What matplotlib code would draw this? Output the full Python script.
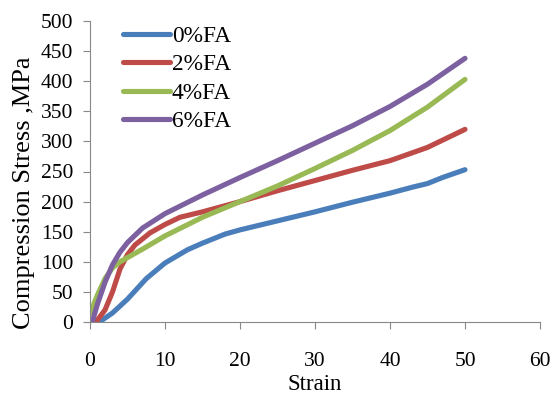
import numpy as np
import matplotlib
matplotlib.use("Agg")
import matplotlib.pyplot as plt

strain_0 = [1.25, 3, 5, 7.5, 10, 13, 15, 18, 20, 25, 30, 35, 40, 43, 45, 47, 50]
stress_0 = [0, 15, 38, 72, 98, 120, 131, 146, 153, 168, 183, 199, 214, 224, 230, 240, 253]

strain_2 = [0.8, 2, 3, 4, 5, 6, 8, 10, 12, 15, 20, 25, 30, 35, 40, 45, 50]
stress_2 = [0, 20, 50, 88, 112, 128, 148, 162, 174, 183, 200, 218, 235, 252, 268, 290, 320]

strain_4 = [0, 1, 2, 3, 4, 5, 7, 10, 15, 20, 25, 30, 35, 40, 45, 50]
stress_4 = [14, 45, 72, 90, 100, 107, 121, 143, 174, 200, 226, 255, 285, 318, 357, 403]

strain_6 = [0.3, 1, 2, 3, 4, 5, 7, 10, 15, 20, 25, 30, 35, 40, 45, 50]
stress_6 = [0, 30, 66, 95, 116, 132, 156, 180, 211, 240, 268, 297, 326, 358, 395, 438]

labels = ["0%FA", "2%FA", "4%FA", "6%FA"]
colors = ["#4a7ebb", "#be4b48", "#98b954", "#7d60a0"]

plt.rcParams["font.family"] = ["Liberation Serif", "DejaVu Serif"]

fig = plt.figure(figsize=(5.5, 3.94), dpi=100)
ax = fig.add_axes([90 / 550, 72 / 394, 450 / 550, 301 / 394])

series = [(strain_0, stress_0), (strain_2, stress_2), (strain_4, stress_4), (strain_6, stress_6)]
for (x, y), lab, c in zip(series, labels, colors):
    ax.plot(x, y, color=c, lw=3.7, label=lab, solid_capstyle="round", solid_joinstyle="round")

ax.set_xlim(0, 60)
ax.set_ylim(0, 500)
ax.set_xticks(range(0, 61, 10))
ax.set_yticks(range(0, 501, 50))
for s in ["top", "right"]:
    ax.spines[s].set_visible(False)
for s in ["left", "bottom"]:
    ax.spines[s].set_color("#888888")
ax.tick_params(axis="both", colors="#888888", labelcolor="black", labelsize=15.5, length=5, direction="out")
ax.tick_params(axis="x", pad=16.5)
ax.tick_params(axis="y", pad=7)

ax.set_xlabel("Strain", fontsize=16.5, labelpad=2)
ax.set_ylabel("Compression Stress ,MPa", fontsize=19)
ax.yaxis.set_label_coords(-0.122, 0.43)

leg = ax.legend(loc="upper left", bbox_to_anchor=(0.073, 0.984), frameon=False, fontsize=16.8,
                handlelength=2.0, handletextpad=0.1, labelspacing=0.3,
                borderpad=0, borderaxespad=0)

fig.savefig("out.png", dpi=100)
